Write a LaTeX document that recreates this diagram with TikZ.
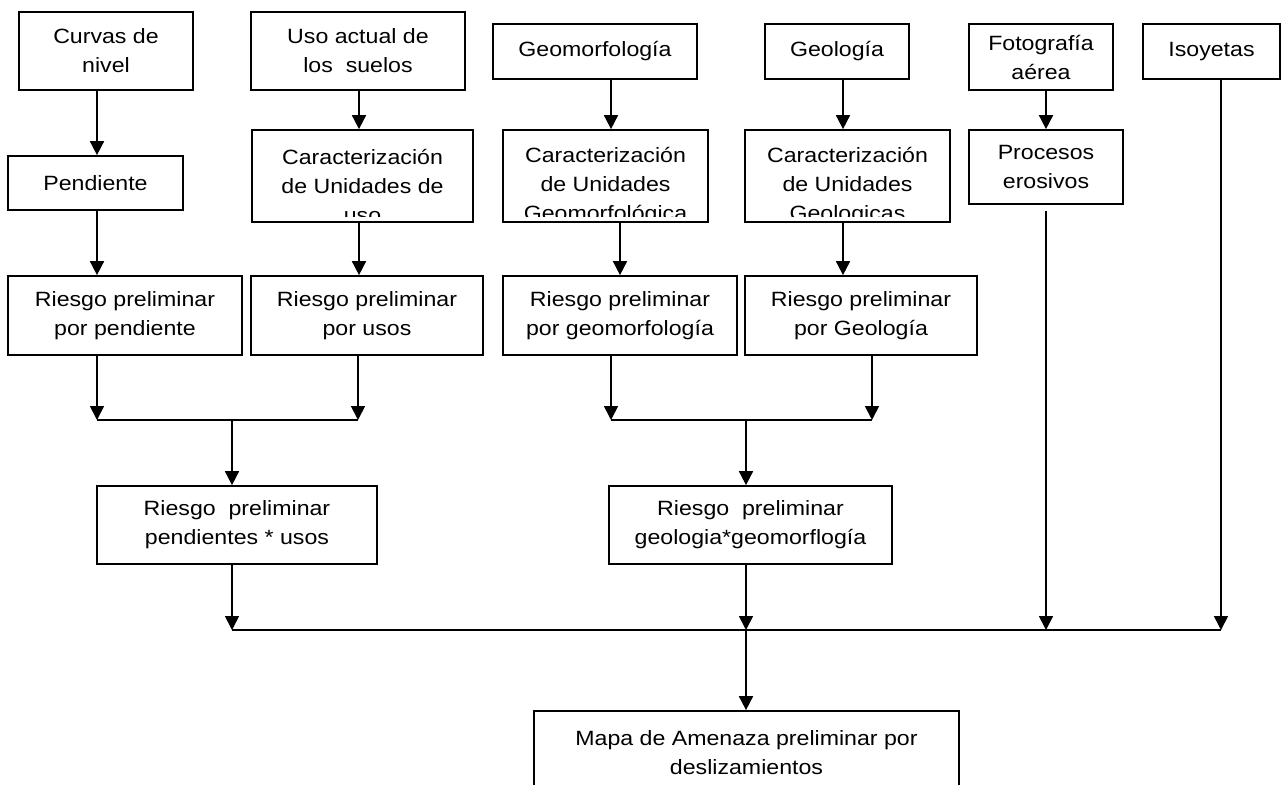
\documentclass[tikz,border=0pt]{standalone}
\usepackage{fontspec}
\setmainfont[FakeStretch=1.12]{Liberation Sans}
\usetikzlibrary{arrows.meta}
\newcommand{\flowbox}[6]{%
  \node[fbox, minimum width={(#4-#2)*0.75pt}, minimum height={(#5-#3)*0.75pt}]
    (#1) at ({(#2+#4)/2},{(#3+#5)/2}) {#6};}
\newcommand{\clipbox}[6]{%
  \node[fbox, minimum width={(#4-#2)*0.75pt}, minimum height={(#5-#3)*0.75pt},
    path picture={\clip (path picture bounding box.north west) rectangle
        ([yshift=4.5pt]path picture bounding box.south east);
      \node[ftext, draw=none, anchor=north] at ([yshift=-6.5pt]path picture bounding box.north) {#6};}]
    (#1) at ({(#2+#4)/2},{(#3+#5)/2}) {};}
\begin{document}
\begin{tikzpicture}[x=0.75pt, y=-0.75pt, line width=1.3pt,
  ftext/.style={font=\fontsize{15.5pt}{21.75pt}\selectfont, align=center, inner sep=0pt},
  fbox/.style={ftext, draw, rectangle},
  arr/.style={-{Triangle[width=10.5pt,length=10.5pt]}}]
\clip (0,0) rectangle (1281,785);
\fill[white] (0,0) rectangle (1281,785);
% row 1
\flowbox{curvas}{19}{12}{193}{90}{Curvas de\\nivel}
\flowbox{uso}{251}{12}{465}{90}{Uso actual de\\los~ suelos}
\flowbox{geomorf}{493}{24}{697}{79}{Geomorfología}
\flowbox{geol}{765}{24}{909}{79}{Geología}
\flowbox{foto}{969}{24}{1113}{90}{Fotografía\\aérea}
\flowbox{isoy}{1143}{24}{1280}{79}{Isoyetas}
% row 2
\flowbox{pend}{8}{156}{183}{210}{Pendiente}
\clipbox{caruso}{252}{130}{473}{222}{Caracterización\\de Unidades de\\uso}
\clipbox{cargeom}{503}{130}{708}{222}{Caracterización\\de Unidades\\Geomorfológica}
\clipbox{cargeol}{745}{130}{950}{222}{Caracterización\\de Unidades\\Geologicas}
\flowbox{proc}{969}{130}{1123}{204}{Procesos\\erosivos}
% row 3
\flowbox{r1}{8}{276}{242}{355}{Riesgo preliminar\\por pendiente}
\flowbox{r2}{251}{276}{483}{355}{Riesgo preliminar\\por usos}
\flowbox{r3}{503}{276}{737}{355}{Riesgo preliminar\\por geomorfología}
\flowbox{r4}{745}{276}{977}{355}{Riesgo preliminar\\por Geología}
% row 4
\flowbox{r5}{97}{486}{377}{564}{Riesgo~ preliminar\\pendientes * usos}
\flowbox{r6}{609}{486}{892}{564}{Riesgo~ preliminar\\geologia*geomorflogía}
% bottom
\flowbox{mapa}{534}{711}{959}{795}{Mapa de Amenaza preliminar por\\deslizamientos}
% junction coordinates
\coordinate (ja) at (232,420);
\coordinate (jb) at (746,420);
\coordinate (jc) at (746,630);
% connectors rows 1-2
\draw[arr] (97,0 |- curvas.south) -- (97,0 |- pend.north);
\draw[arr] (359,0 |- uso.south) -- (359,0 |- caruso.north);
\draw[arr] (611,0 |- geomorf.south) -- (611,0 |- cargeom.north);
\draw[arr] (843,0 |- geol.south) -- (843,0 |- cargeol.north);
\draw[arr] (1046,0 |- foto.south) -- (1046,0 |- proc.north);
% rows 2-3
\draw[arr] (97,0 |- pend.south) -- (97,0 |- r1.north);
\draw[arr] (359,0 |- caruso.south) -- (359,0 |- r2.north);
\draw[arr] (620,0 |- cargeom.south) -- (620,0 |- r3.north);
\draw[arr] (843,0 |- cargeol.south) -- (843,0 |- r4.north);
% merge left
\draw[arr] (97,0 |- r1.south) -- (97,0 |- ja);
\draw[arr] (358,0 |- r2.south) -- (358,0 |- ja);
\draw (97,0 |- ja) -- (358,0 |- ja);
\draw[arr] (ja) -- (ja |- r5.north);
% merge right
\draw[arr] (611,0 |- r3.south) -- (611,0 |- jb);
\draw[arr] (872,0 |- r4.south) -- (872,0 |- jb);
\draw (611,0 |- jb) -- (872,0 |- jb);
\draw[arr] (jb) -- (jb |- r6.north);
% bottom merge
\draw[arr] (232,0 |- r5.south) -- (232,0 |- jc);
\draw[arr] (746,0 |- r6.south) -- (jc);
\draw[arr] ([yshift=-4.5pt]proc.south) -- (proc.south |- jc);
\draw[arr] (1221,0 |- isoy.south) -- (1221,0 |- jc);
\draw (232,0 |- jc) -- (1221,0 |- jc);
\draw[arr] (jc) -- (jc |- mapa.north);
\end{tikzpicture}
\end{document}
